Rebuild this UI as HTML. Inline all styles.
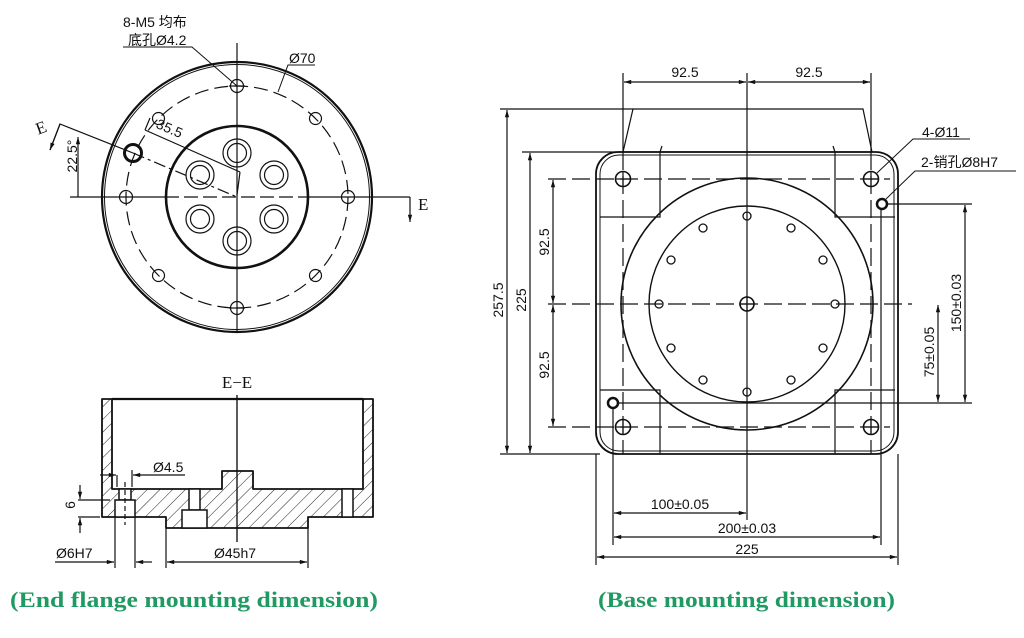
<!DOCTYPE html>
<html><head><meta charset="utf-8"><style>
html,body{margin:0;padding:0;background:#fff;}
svg{display:block;}
text{font-family:"Liberation Sans","Noto Sans CJK SC",sans-serif;fill:#111;}
.t{font-size:14px;}
.s{font-family:"Liberation Serif",serif;}
.cap{font-family:"Liberation Serif",serif;font-weight:bold;font-size:22px;fill:#1f9a62;}
</style></head><body>
<svg width="1024" height="638" viewBox="0 0 1024 638" xmlns="http://www.w3.org/2000/svg">
<defs>
<pattern id="h" patternUnits="userSpaceOnUse" width="9" height="9" patternTransform="rotate(45)">
<line x1="0" y1="0" x2="0" y2="9" stroke="#222" stroke-width="1"/>
</pattern>
<marker id="a" viewBox="0 0 10 10" refX="10" refY="5" markerWidth="8" markerHeight="6" orient="auto-start-reverse"><path d="M0,2 L10,5 L0,8 z" fill="#111"/></marker>
</defs>
<rect width="1024" height="638" fill="#fff"/>
<g fill="none" stroke="#111" stroke-width="1.2">
<line x1="237" y1="43" x2="237" y2="332"/>
<circle cx="237" cy="197" r="135" stroke-width="2.2"/>
<circle cx="237" cy="197" r="132.5" stroke-width="1"/>
<circle cx="237" cy="197" r="111" stroke-dasharray="14,6"/>
<circle cx="237" cy="197" r="71" stroke-width="2.6"/>
<line x1="70" y1="197" x2="165" y2="197"/>
<line x1="165" y1="197" x2="310" y2="197" stroke-dasharray="14,5"/>
<line x1="310" y1="197" x2="410" y2="197"/>
<line x1="410" y1="197" x2="410" y2="222" marker-end="url(#a)"/>
<g>
<circle cx="237" cy="86" r="6.5"/><line x1="229" y1="86" x2="245" y2="86"/>
<circle cx="237" cy="308" r="6.5"/><line x1="229" y1="308" x2="245" y2="308"/>
<circle cx="126" cy="197" r="6.5"/>
<circle cx="348" cy="197" r="6.5"/>
<circle cx="158.5" cy="118.5" r="6"/>
<circle cx="315.5" cy="118.5" r="6"/>
<circle cx="158.5" cy="275.5" r="6"/>
<circle cx="315.5" cy="275.5" r="6"/>
</g>
<circle cx="133" cy="153" r="8.5" stroke-width="3"/>
<g>
<circle cx="237" cy="153" r="14"/><circle cx="237" cy="153" r="9.5"/>
<circle cx="237" cy="241" r="14"/><circle cx="237" cy="241" r="9.5"/>
<circle cx="200" cy="175" r="14"/><circle cx="200" cy="175" r="9.5"/>
<circle cx="274" cy="175" r="14"/><circle cx="274" cy="175" r="9.5"/>
<circle cx="200" cy="219" r="14"/><circle cx="200" cy="219" r="9.5"/>
<circle cx="274" cy="219" r="14"/><circle cx="274" cy="219" r="9.5"/>
</g>
<polyline points="50,150 60,124 133,153"/>
<line x1="60" y1="124" x2="50" y2="150" marker-end="url(#a)"/>
<line x1="133" y1="153" x2="237" y2="197" stroke-dasharray="12,4,3,4"/>
<line x1="78" y1="137" x2="78" y2="197" marker-start="url(#a)"/>
<line x1="145" y1="130" x2="240" y2="172"/>
<line x1="145" y1="130" x2="150" y2="118"/>
<line x1="240" y1="172" x2="237" y2="195"/>
<polyline points="123,47 192,47 237,86" stroke-width="1"/>
<polyline points="315,65 288,65 278,92" stroke-width="1"/>

<line x1="237" y1="395" x2="237" y2="542"/>
<path d="M102,399 L112,399 L112,489 L222,489 L222,471 L253,471 L253,489 L363,489 L363,399 L373,399 L373,517 L308,517 L308,528 L166,528 L166,517 L102,517 Z" fill="url(#h)" stroke-width="1.8" stroke-linejoin="round"/>
<line x1="112" y1="399" x2="363" y2="399" stroke-width="2.2"/>
<g fill="#fff" stroke-width="1.5">
<rect x="119" y="489" width="12" height="11"/>
<rect x="115" y="500" width="20" height="17"/>
<rect x="189" y="489" width="11" height="21"/>
<rect x="182" y="510" width="25" height="18"/>
<rect x="342" y="489" width="11" height="28"/>
</g>
<line x1="125" y1="482" x2="125" y2="525" stroke-dasharray="5,3"/>
<line x1="237" y1="395" x2="237" y2="542"/>
<line x1="115" y1="517" x2="115" y2="568"/>
<line x1="135" y1="517" x2="135" y2="568"/>
<line x1="166" y1="528" x2="166" y2="568"/>
<line x1="308" y1="528" x2="308" y2="568"/>
<line x1="132" y1="470" x2="132" y2="487"/>
<line x1="117" y1="475" x2="117" y2="487"/>
<line x1="185" y1="475" x2="133" y2="475" marker-end="url(#a)"/>
<line x1="100" y1="475" x2="116" y2="475" marker-end="url(#a)"/>
<line x1="55" y1="562" x2="114" y2="562" marker-end="url(#a)"/>
<line x1="152" y1="562" x2="136" y2="562" marker-end="url(#a)"/>
<line x1="167" y1="562" x2="307" y2="562" marker-start="url(#a)" marker-end="url(#a)"/>
<line x1="78" y1="500" x2="110" y2="500"/>
<line x1="78" y1="517" x2="100" y2="517"/>
<line x1="80" y1="485" x2="80" y2="499" marker-end="url(#a)"/>
<line x1="80" y1="533" x2="80" y2="518" marker-end="url(#a)"/>

<polyline points="623,152 633,109 863,109 872,152"/>
<rect x="596" y="152" width="302" height="302" rx="22" stroke-width="1.8"/>
<rect x="600" y="155" width="294" height="296" rx="19" stroke-width="1"/>
<line x1="623" y1="152" x2="872" y2="152"/>
<polyline points="600,217 660,217 660,152"/>
<polyline points="895,217 835,217 835,152"/>
<polyline points="600,390 660,390 660,454"/>
<polyline points="895,390 835,390 835,454"/>
<line x1="660" y1="152" x2="662" y2="146"/><line x1="835" y1="152" x2="833" y2="146"/>
<circle cx="747" cy="304" r="126" stroke-width="1.6"/>
<circle cx="747" cy="304" r="98" stroke-width="1.4"/>
<line x1="747" y1="73" x2="747" y2="520"/>
<g stroke-dasharray="18,6">
<line x1="548" y1="304" x2="912" y2="304"/>
<line x1="548" y1="179" x2="890" y2="179"/>
<line x1="548" y1="427" x2="890" y2="427"/>
<line x1="623" y1="152" x2="623" y2="454"/>
<line x1="871" y1="152" x2="871" y2="454"/>
</g>
<circle cx="623" cy="179" r="7.5" stroke-width="1.6"/><line x1="615" y1="179" x2="631" y2="179"/><line x1="623" y1="171" x2="623" y2="187"/>
<circle cx="871" cy="179" r="7.5" stroke-width="1.6"/><line x1="863" y1="179" x2="879" y2="179"/><line x1="871" y1="171" x2="871" y2="187"/>
<circle cx="623" cy="427" r="7.5" stroke-width="1.6"/><line x1="615" y1="427" x2="631" y2="427"/><line x1="623" y1="419" x2="623" y2="435"/>
<circle cx="871" cy="427" r="7.5" stroke-width="1.6"/><line x1="863" y1="427" x2="879" y2="427"/><line x1="871" y1="419" x2="871" y2="435"/>
<circle cx="882" cy="204" r="5" stroke-width="2.5"/>
<circle cx="613" cy="403" r="5" stroke-width="2.5"/>
<circle cx="747" cy="304" r="7" stroke-width="1.6"/><line x1="739" y1="304" x2="755" y2="304"/><line x1="747" y1="296" x2="747" y2="312"/>
<g stroke-width="1.3">
<circle cx="747" cy="216" r="4"/><circle cx="791" cy="228" r="4"/><circle cx="823" cy="260" r="4"/><circle cx="835" cy="304" r="4"/>
<circle cx="823" cy="348" r="4"/><circle cx="791" cy="380" r="4"/><circle cx="747" cy="392" r="4"/><circle cx="703" cy="380" r="4"/>
<circle cx="671" cy="348" r="4"/><circle cx="659" cy="304" r="4"/><circle cx="671" cy="260" r="4"/><circle cx="703" cy="228" r="4"/>
</g>
<line x1="623" y1="73" x2="623" y2="152"/>
<line x1="871" y1="73" x2="871" y2="152"/>
<line x1="624" y1="82" x2="746" y2="82" marker-start="url(#a)" marker-end="url(#a)"/>
<line x1="748" y1="82" x2="870" y2="82" marker-start="url(#a)" marker-end="url(#a)"/>
<line x1="500" y1="109" x2="633" y2="109"/>
<line x1="500" y1="454" x2="600" y2="454"/>
<line x1="522" y1="152" x2="623" y2="152"/>
<line x1="507" y1="110" x2="507" y2="453" marker-start="url(#a)" marker-end="url(#a)"/>
<line x1="530" y1="153" x2="530" y2="453" marker-start="url(#a)" marker-end="url(#a)"/>
<line x1="553" y1="180" x2="553" y2="303" marker-start="url(#a)" marker-end="url(#a)"/>
<line x1="553" y1="305" x2="553" y2="426" marker-start="url(#a)" marker-end="url(#a)"/>
<line x1="887" y1="204" x2="972" y2="204"/>
<line x1="618" y1="403" x2="972" y2="403"/>
<line x1="965" y1="205" x2="965" y2="402" marker-start="url(#a)" marker-end="url(#a)"/>
<line x1="938" y1="305" x2="938" y2="402" marker-start="url(#a)" marker-end="url(#a)"/>
<line x1="613" y1="408" x2="613" y2="545"/>
<line x1="881" y1="209" x2="881" y2="545"/>
<line x1="596" y1="454" x2="596" y2="565"/>
<line x1="898" y1="454" x2="898" y2="565"/>
<line x1="614" y1="513" x2="746" y2="513" marker-start="url(#a)" marker-end="url(#a)"/>
<line x1="614" y1="537" x2="880" y2="537" marker-start="url(#a)" marker-end="url(#a)"/>
<line x1="597" y1="557" x2="897" y2="557" marker-start="url(#a)" marker-end="url(#a)"/>
<polyline points="970,139 913,139 877,173" stroke-width="1"/>
<polyline points="1016,171 915,171 886,199" stroke-width="1"/>
</g>

<text class="t" x="123" y="27" font-size="13">8-M5 均布</text>
<text class="t" x="128" y="45" font-size="13">底孔Ø4.2</text>
<text class="t" x="289" y="63" font-size="13">Ø70</text>
<text class="t" x="152" y="133" font-size="13" transform="rotate(23 167 138)">35.5</text>
<text class="t" x="73" y="160" font-size="13" text-anchor="middle" transform="rotate(-90 73 156)">22.5°</text>
<text class="s" x="36" y="133" font-size="17" transform="rotate(-20 42 128)">E</text>
<text class="s" x="418" y="210" font-size="17">E</text>
<text class="s" x="237" y="388" font-size="17" text-anchor="middle">E−E</text>
<text class="t" x="153" y="472" font-size="13">Ø4.5</text>
<text class="t" x="56" y="558" font-size="13">Ø6H7</text>
<text class="t" x="214" y="558" font-size="13">Ø45h7</text>
<text class="t" x="79" y="509" font-size="13" text-anchor="middle" transform="rotate(-90 75 509)">6</text>

<text class="t" x="685" y="77" text-anchor="middle">92.5</text>
<text class="t" x="809" y="77" text-anchor="middle">92.5</text>
<text class="t" x="503" y="300" text-anchor="middle" transform="rotate(-90 503 300)">257.5</text>
<text class="t" x="526" y="300" text-anchor="middle" transform="rotate(-90 526 300)">225</text>
<text class="t" x="549" y="242" text-anchor="middle" transform="rotate(-90 549 242)">92.5</text>
<text class="t" x="549" y="365" text-anchor="middle" transform="rotate(-90 549 365)">92.5</text>
<text class="t" x="961" y="303" text-anchor="middle" transform="rotate(-90 961 303)">150±0.03</text>
<text class="t" x="934" y="352" text-anchor="middle" transform="rotate(-90 934 352)">75±0.05</text>
<text class="t" x="680" y="509" text-anchor="middle">100±0.05</text>
<text class="t" x="747" y="533" text-anchor="middle">200±0.03</text>
<text class="t" x="747" y="554" text-anchor="middle">225</text>
<text class="t" x="922" y="137" font-size="13">4-Ø11</text>
<text class="t" x="921" y="167" font-size="13" fill="#333">2-销孔Ø8H7</text>

<text class="cap" x="10" y="607" textLength="368" lengthAdjust="spacingAndGlyphs">(End flange mounting dimension)</text>
<text class="cap" x="598" y="607" textLength="297" lengthAdjust="spacingAndGlyphs">(Base mounting dimension)</text>
</svg>
</body></html>
